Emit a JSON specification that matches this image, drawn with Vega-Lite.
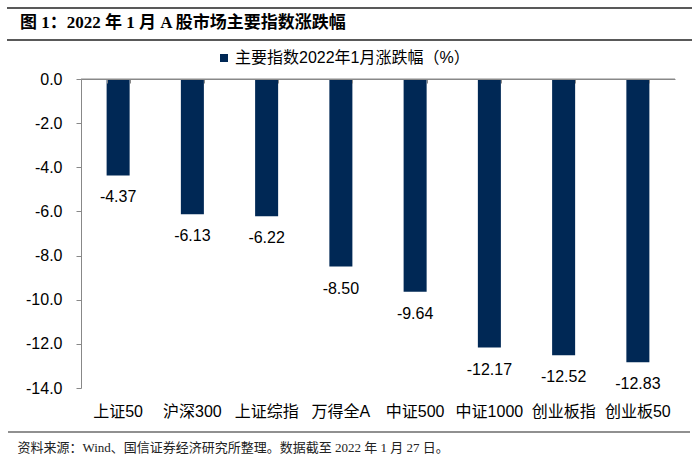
{
  "$schema": "https://vega.github.io/schema/vega-lite/v6.json",
  "width": 594,
  "height": 309,
  "autosize": "none",
  "padding": {"left": 81, "top": 79, "right": 25, "bottom": 73},
  "background": "white",
  "title": {
    "text": "图 1：2022 年 1 月 A 股市场主要指数涨跌幅",
    "anchor": "start",
    "frame": "group",
    "dx": -61,
    "offset": -25,
    "fontSize": 17,
    "font": "Liberation Serif, Noto Sans CJK SC",
    "fontWeight": "bold",
    "color": "#000000"
  },
  "config": {
    "view": {"stroke": null},
    "axis": {"grid": false},
    "locale": {"number": {"decimal": ".", "thousands": ",", "grouping": [3], "currency": ["", ""], "minus": "-"}}
  },
  "data": {
    "values": [
      {"index": "上证50", "value": -4.37},
      {"index": "沪深300", "value": -6.13},
      {"index": "上证综指", "value": -6.22},
      {"index": "万得全A", "value": -8.50},
      {"index": "中证500", "value": -9.64},
      {"index": "中证1000", "value": -12.17},
      {"index": "创业板指", "value": -12.52},
      {"index": "创业板50", "value": -12.83}
    ]
  },
  "layer": [
    {
      "mark": {"type": "bar"},
      "encoding": {
        "x": {
          "field": "index",
          "type": "nominal",
          "sort": null,
          "scale": {"paddingInner": 0.69, "paddingOuter": 0.345},
          "axis": {
            "orient": "top",
            "labels": false,
            "title": null,
            "tickBand": "extent",
            "tickSize": -4,
            "tickColor": "#888888",
            "domainColor": "#888888",
            "zindex": 1
          }
        },
        "y": {
          "field": "value",
          "type": "quantitative",
          "scale": {"domain": [-14, 0], "nice": false},
          "axis": {
            "values": [0, -2, -4, -6, -8, -10, -12, -14],
            "format": ".1f",
            "title": null,
            "domainColor": "#888888",
            "tickColor": "#888888",
            "tickSize": 5,
            "labelPadding": 14,
            "labelFontSize": 16,
            "labelFont": "Liberation Sans",
            "labelColor": "#000000"
          }
        },
        "color": {
          "datum": "主要指数2022年1月涨跌幅（%）",
          "type": "nominal",
          "scale": {"range": ["#002855"]},
          "legend": {
            "orient": "none",
            "legendX": 135,
            "legendY": -29,
            "direction": "horizontal",
            "title": null,
            "symbolType": "square",
            "symbolSize": 64,
            "symbolStrokeWidth": 0,
            "labelFontSize": 16,
            "labelLimit": 500,
            "labelFont": "Liberation Sans, Noto Sans CJK SC",
            "labelColor": "#000000",
            "labelOffset": 3
          }
        }
      }
    },
    {
      "mark": {
        "type": "text",
        "dy": 22,
        "baseline": "middle",
        "fontSize": 16,
        "font": "Liberation Sans",
        "color": "#000000"
      },
      "encoding": {
        "x": {
          "field": "index",
          "type": "nominal",
          "sort": null,
          "axis": {
            "orient": "bottom",
            "domain": false,
            "ticks": false,
            "labelAngle": 0,
            "labelPadding": 15,
            "labelFontSize": 16,
            "labelFont": "Liberation Sans, Noto Sans CJK SC",
            "labelColor": "#000000",
            "title": "资料来源：Wind、国信证券经济研究所整理。数据截至 2022 年 1 月 27 日。",
            "titleAnchor": "start",
            "titleAlign": "left",
            "titleX": -64,
            "titleY": 59,
            "titleBaseline": "middle",
            "titleFont": "Liberation Serif, Noto Sans CJK SC",
            "titleFontSize": 13,
            "titleFontWeight": "normal",
            "titleColor": "#222222"
          }
        },
        "y": {"field": "value", "type": "quantitative"},
        "text": {"field": "value", "type": "quantitative", "format": ".2f"}
      }
    },
    {
      "data": {"values": [{}]},
      "mark": {"type": "rule", "color": "#888888", "strokeWidth": 1},
      "encoding": {"y": {"datum": 0}}
    },
    {
      "data": {"values": [{}]},
      "mark": {"type": "rule", "color": "#222222", "strokeWidth": 1.5},
      "encoding": {"x": {"value": -74}, "x2": {"value": 611}, "y": {"value": -71}}
    },
    {
      "data": {"values": [{}]},
      "mark": {"type": "rule", "color": "#222222", "strokeWidth": 1.5},
      "encoding": {"x": {"value": -74}, "x2": {"value": 611}, "y": {"value": -39}}
    },
    {
      "data": {"values": [{}]},
      "mark": {"type": "rule", "color": "#222222", "strokeWidth": 1.2},
      "encoding": {"x": {"value": -73}, "x2": {"value": 609}, "y": {"value": 353}}
    }
  ],
  "resolve": {"axis": {"x": "independent"}}
}
